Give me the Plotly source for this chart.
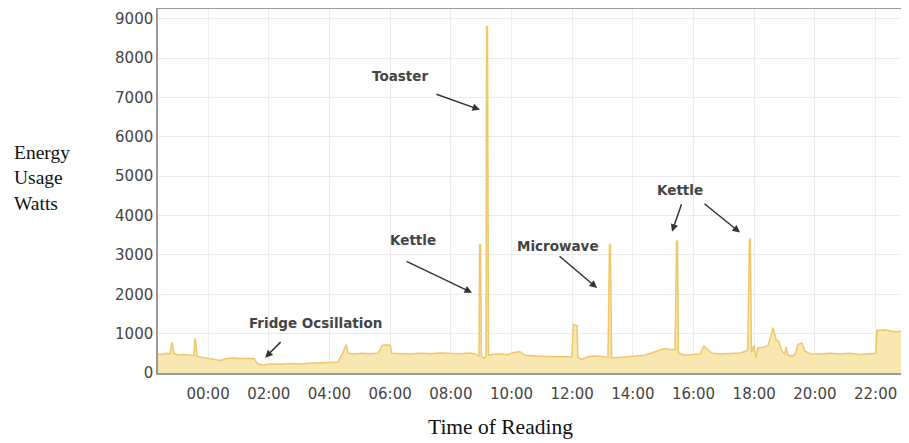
import plotly.graph_objects as go

# time of reading in decimal hours (relative to 00:00), energy usage in watts
hours = [
    -1.65, -1.52, -1.38, -1.25, -1.20, -1.18, -1.12, -0.99, -0.79, -0.59, -0.46,
    -0.44, -0.42, -0.36, -0.20, 0.00, 0.20, 0.40, 0.59, 0.79, 1.05, 1.32, 1.52,
    1.61, 1.78, 2.04, 2.37, 2.70, 3.03, 3.36, 3.69, 4.02, 4.28, 4.42, 4.54, 4.56,
    4.61, 4.84, 5.07, 5.34, 5.60, 5.73, 5.87, 6.00, 6.06, 6.33, 6.66, 6.99, 7.32,
    7.64, 7.97, 8.30, 8.63, 8.83, 8.93, 8.95, 8.98, 9.01, 9.09, 9.16, 9.18, 9.21,
    9.24, 9.36, 9.62, 9.89, 10.05, 10.28, 10.45, 10.77, 11.10, 11.43, 11.76,
    11.99, 12.04, 12.16, 12.19, 12.32, 12.52, 12.75, 13.02, 13.18, 13.23, 13.26,
    13.30, 13.44, 13.74, 14.07, 14.40, 14.73, 14.89, 15.06, 15.22, 15.39, 15.44,
    15.47, 15.50, 15.72, 15.95, 16.21, 16.34, 16.44, 16.61, 16.87, 17.20, 17.53,
    17.73, 17.79, 17.84, 17.87, 17.91, 17.99, 18.06, 18.12, 18.29, 18.45, 18.52,
    18.62, 18.72, 18.81, 18.91, 19.01, 19.05, 19.11, 19.28, 19.37, 19.44, 19.57,
    19.67, 19.84, 20.17, 20.49, 20.82, 21.15, 21.48, 21.81, 22.01, 22.04, 22.31,
    22.64, 22.87,
]
watts = [
    490, 470, 500, 480, 760, 760, 500, 460, 470, 450, 440,
    860, 860, 420, 400, 380, 360, 320, 360, 380, 370, 380, 370,
    250, 200, 230, 220, 240, 230, 250, 260, 270, 280, 480, 720, 720,
    500, 480, 500, 490, 500, 700, 720, 700, 500, 490, 480, 500, 490,
    510, 500, 490, 510, 480, 420, 3250, 3250, 420, 380, 420, 8800, 8800,
    450, 470, 480, 460, 520, 540, 450, 430, 420, 410, 420,
    410, 1230, 1200, 400, 340, 420, 430, 410, 400, 3250, 3250,
    380, 390, 420, 440, 450, 540, 570, 620, 600, 600, 3350,
    3350, 500, 450, 470, 480, 680, 620, 500, 480, 490, 510,
    560, 600, 3400, 3400, 520, 700, 380, 640, 650, 700, 860,
    1150, 850, 800, 560, 480, 660, 450, 430, 520, 720, 760,
    560, 490, 480, 500, 480, 500, 470, 490, 500, 1080, 1090,
    1050, 1060,
]

tick_hours = [0, 2, 4, 6, 8, 10, 12, 14, 16, 18, 20, 22]
tick_labels = ["00:00", "02:00", "04:00", "06:00", "08:00", "10:00",
               "12:00", "14:00", "16:00", "18:00", "20:00", "22:00"]
y_ticks = [0, 1000, 2000, 3000, 4000, 5000, 6000, 7000, 8000, 9000]

# annotation labels: (text, hour, watts)
labels = [
    ("Toaster", 6.33, 7550),
    ("Kettle", 6.76, 3390),
    ("Microwave", 11.53, 3220),
    ("Kettle", 15.55, 4650),
    ("Fridge Ocsillation", 3.53, 1280),
]
# arrows: (tip hour, tip watts)
arrow_tips = [(8.96, 6690), (8.70, 2040), (12.82, 2160), (15.29, 3590),
              (17.53, 3570), (1.88, 390)]
arrow_offsets = [(-45, -16), (-67, -32), (-39, -33), (10, -29), (-37, -30), (17, -17)]

fig = go.Figure()
fig.add_trace(go.Scatter(
    x=hours, y=watts, mode="lines", fill="tozeroy",
    line=dict(color="rgb(238,200,105)", width=1.5),
    fillcolor="rgb(249,231,178)",
    hoverinfo="skip",
))

ann = []
for text, hx, wy in labels:
    ann.append(dict(x=hx, y=wy, xref="x", yref="y", text=text, showarrow=False,
                    font=dict(family="DejaVu Sans", size=13.5, color="#444444", weight="bold")))
for (tx, ty), (ax, ay) in zip(arrow_tips, arrow_offsets):
    ann.append(dict(x=tx, y=ty, xref="x", yref="y", text="", showarrow=True,
                    ax=ax, ay=ay, arrowhead=2, arrowsize=1, arrowwidth=1.5,
                    arrowcolor="#333333", standoff=0, startstandoff=0))
ann.append(dict(xref="paper", yref="paper", x=-0.196, y=0.537, xanchor="left", yanchor="middle",
                text="Energy<br>Usage<br>Watts", align="left", showarrow=False,
                font=dict(family="Liberation Serif", size=19.5, color="#111111")))
ann.append(dict(xref="paper", yref="paper", x=0.46, y=-0.148, xanchor="center", yanchor="middle",
                text="Time of Reading", showarrow=False,
                font=dict(family="Liberation Serif", size=21.5, color="#111111")))

fig.update_layout(
    width=901, height=435,
    margin=dict(l=150, r=7, t=1, b=70, autoexpand=False),
    paper_bgcolor="white", plot_bgcolor="white",
    showlegend=False,
    annotations=ann,
    xaxis=dict(range=[-1.65, 22.87], tickvals=tick_hours, ticktext=tick_labels,
               automargin=False, ticklabeloverflow="allow",
               showgrid=True, gridcolor="#ececec", gridwidth=1, zeroline=False,
               showline=True, mirror=True, linecolor="#9a9a9a", linewidth=1.5,
               ticks="", ticklabelstandoff=6,
               tickfont=dict(family="DejaVu Sans", size=15, color="#444444")),
    yaxis=dict(range=[0, 9250], tickvals=y_ticks, automargin=False,
               ticklabeloverflow="allow",
               showgrid=True, gridcolor="#ececec", gridwidth=1, zeroline=False,
               showline=True, mirror=True, linecolor="#9a9a9a", linewidth=1.5,
               ticks="", ticklabelstandoff=0,
               tickfont=dict(family="DejaVu Sans", size=15, color="#444444")),
)

fig.write_html("out.html")
